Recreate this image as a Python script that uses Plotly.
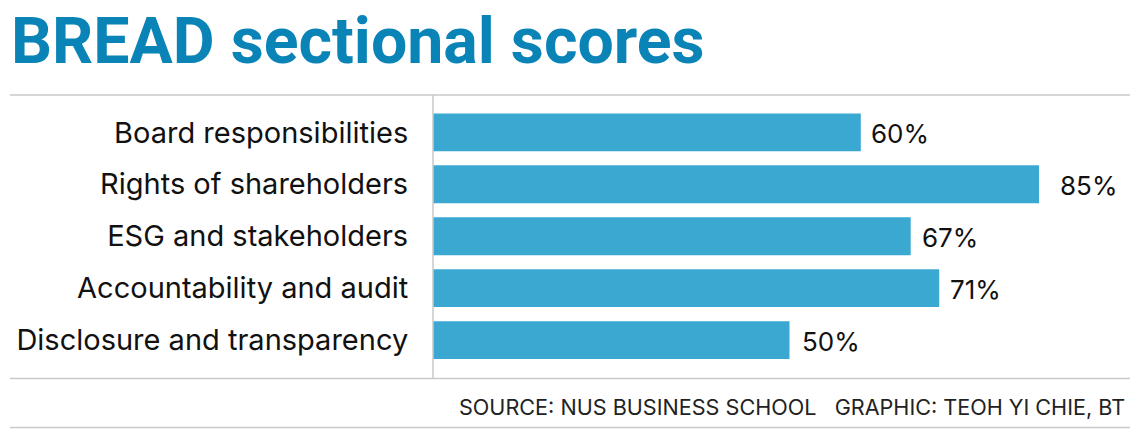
import plotly.graph_objects as go

categories = ["Board responsibilities", "Rights of shareholders", "ESG and stakeholders",
              "Accountability and audit", "Disclosure and transparency"]
scores = [60, 85, 67, 71, 50]
value_labels = [f"{v}%" for v in scores]
title_text = "BREAD sectional scores"
source_text = "SOURCE: NUS BUSINESS SCHOOL   GRAPHIC: TEOH YI CHIE, BT"

W, H = 1140, 429
ML, MR, MT, MB = 433, 8, 95, 51
PW = W - ML - MR
PH = H - MT - MB

BAR = "#3ba8d2"
TITLE_C = "#0a84b6"
LINE_C = "#c9c9c9"
FONT = "Inter"
TFONT = "Roboto"
LABEL_GAP = [8, 19, 9, 9, 10]  # style: spacing between bar end and its value label

fig = go.Figure(go.Bar(
    x=scores, y=categories, orientation="h",
    marker=dict(color=BAR, line=dict(width=0)),
    hoverinfo="skip",
))

def px_x(p):
    return (p - ML) / PW

def px_y(p):
    return (MT + PH - p) / PH

annotations = []
for c, v, t, g in zip(categories, scores, value_labels, LABEL_GAP):
    annotations.append(dict(x=v, y=c, xref="x", yref="y", text=t, showarrow=False,
                            xanchor="left", yanchor="middle", xshift=g, yshift=-1,
                            font=dict(family=FONT, size=26, color="#111111")))

annotations.append(dict(x=px_x(1127), y=px_y(407), xref="paper", yref="paper",
                        text=source_text, showarrow=False, xanchor="right", yanchor="middle",
                        font=dict(family=FONT, size=21.6, color="#222222")))
annotations.append(dict(x=px_x(9), y=px_y(41), xref="paper", yref="paper",
                        text=f"<b>{title_text}</b>", showarrow=False, xanchor="left", yanchor="middle",
                        font=dict(family=TFONT, size=64.4, color=TITLE_C)))

shapes = []
for yy in (95, 378.5, 427.5):
    shapes.append(dict(type="line", xref="paper", yref="paper",
                       x0=px_x(10), x1=px_x(1130), y0=px_y(yy), y1=px_y(yy),
                       line=dict(color=LINE_C, width=1.5)))
shapes.append(dict(type="line", xref="paper", yref="paper",
                   x0=0, x1=0, y0=px_y(95), y1=px_y(378.5),
                   line=dict(color=LINE_C, width=1.5)))

fig.update_layout(
    width=W, height=H,
    margin=dict(l=ML, r=MR, t=MT, b=MB, pad=0),
    paper_bgcolor="white", plot_bgcolor="white",
    showlegend=False,
    bargap=0.27,
    xaxis=dict(range=[0, PW / 7.13], visible=False, fixedrange=True),
    yaxis=dict(range=[4.73, -0.72], type="category", categoryorder="array", categoryarray=categories,
               showgrid=False, zeroline=False, showline=False,
               ticks="outside", ticklen=18, tickcolor="rgba(0,0,0,0)",
               tickfont=dict(family=FONT, size=29, color="#111111"), fixedrange=True),
    annotations=annotations,
    shapes=shapes,
)

fig.write_html("out.html", config=dict(displayModeBar=False),
               post_script="document.body.style.margin='0';document.body.style.padding='0';")
